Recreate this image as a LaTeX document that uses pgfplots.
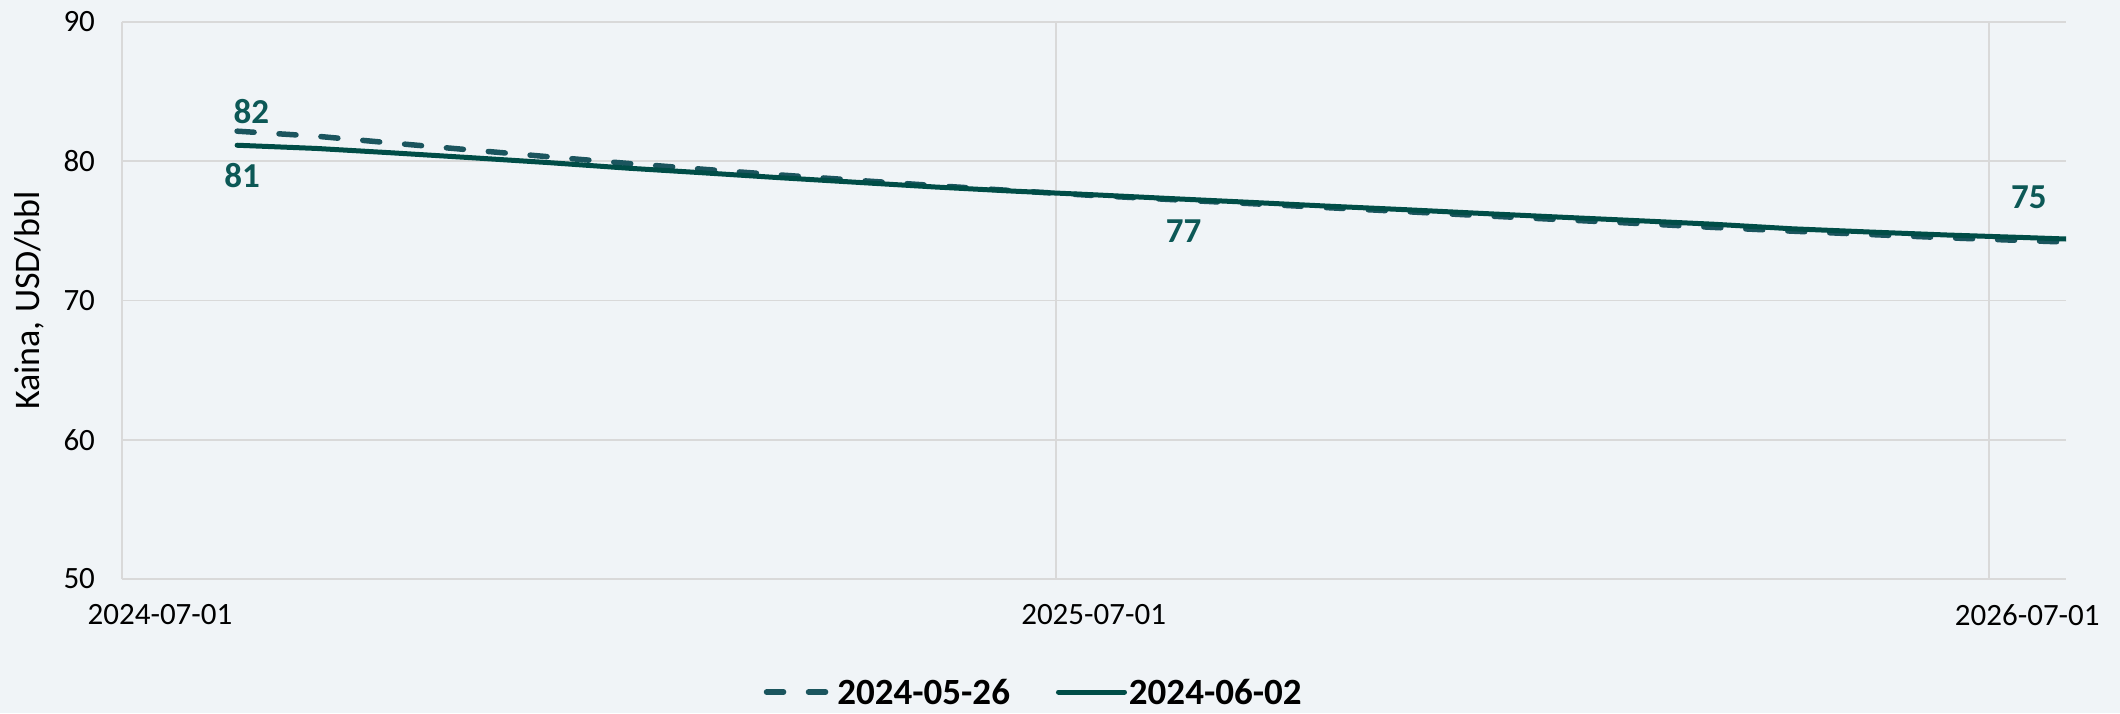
\documentclass[border=0pt]{standalone}
\usepackage{pgfplots}
\pgfplotsset{compat=1.18}
\usepackage{fontspec}
\setmainfont{Carlito}
\definecolor{bg}{RGB}{240,244,247}
\definecolor{gridc}{RGB}{217,217,217}
\definecolor{solidc}{RGB}{0,77,71}
\definecolor{dashc}{RGB}{27,85,94}
\definecolor{labc}{RGB}{12,88,86}
\begin{document}
\begin{tikzpicture}
\path[use as bounding box, fill=bg] (-61pt,-67pt) rectangle (999pt,289.5pt);
\begin{axis}[
  at={(0pt,0pt)}, anchor=south west,
  scale only axis, width=972pt, height=278.5pt,
  xmin=0, xmax=760, ymin=50, ymax=90,
  xtick={0,365,730}, xticklabels={2024-07-01,2025-07-01,2026-07-01},
  ytick={50,60,70,80,90},
  grid=major, major grid style={gridc, line width=0.9pt},
  axis line style={draw=none},
  major tick length=0pt,
  tick label style={font=\fontsize{15.5}{18}\selectfont, black},
  /pgf/number format/assume math mode=true,
  xticklabel style={xshift=19pt, yshift=-9pt},
  yticklabel style={xshift=-10pt},
  ylabel={Kaina, USD/bbl},
  ylabel style={at={(axis description cs:-0.0478,0.5)}, anchor=center, font=\fontsize{18}{21}\selectfont},
  legend style={at={(axis description cs:0.469,-0.203)}, anchor=center, draw=none, fill=none,
    inner sep=0pt, outer sep=0pt,
    legend columns=2, font=\bfseries\fontsize{18.5}{22}\selectfont,
    nodes={inner sep=1pt, text depth=0pt},
    /tikz/every even column/.append style={column sep=22pt}},
  legend cell align=left,
  legend image code/.code={\draw[#1] (0pt,0pt) -- (33pt,0pt);},
]
\addplot[dashc, line width=2.75pt, line cap=round, dash pattern=on 8.5pt off 12.5pt] coordinates {
(45,82.16) (76,81.80) (106,81.30) (137,80.80) (167,80.32) (198,79.84) (229,79.40) (257,79.02)
(288,78.62) (318,78.25) (349,77.88) (379,77.55) (410,77.25) (441,76.96) (471,76.67) (502,76.38)
(532,76.09) (563,75.80) (594,75.52) (622,75.25) (653,74.98) (683,74.74) (714,74.50) (744,74.30) (775,74.10)
};
\addlegendentry{2024-05-26}
\addplot[solidc, line width=2.5pt, line cap=round] coordinates {
(45,81.15) (76,80.92) (106,80.60) (137,80.25) (167,79.90) (198,79.50) (229,79.15) (257,78.82)
(288,78.48) (318,78.15) (349,77.85) (379,77.60) (410,77.32) (441,77.05) (471,76.78) (502,76.52)
(532,76.25) (563,75.98) (594,75.72) (622,75.48) (653,75.15) (683,74.92) (714,74.70) (744,74.52) (775,74.32)
};
\addlegendentry{2024-06-02}
\node[labc, font=\bfseries\fontsize{17.5}{21}\selectfont] at (axis cs:50.6,83.55) {82};
\node[labc, font=\bfseries\fontsize{17.5}{21}\selectfont] at (axis cs:47,78.94) {81};
\node[labc, font=\bfseries\fontsize{17.5}{21}\selectfont] at (axis cs:415,74.98) {77};
\node[labc, font=\bfseries\fontsize{17.5}{21}\selectfont] at (axis cs:745.5,77.43) {75};
\end{axis}
\end{tikzpicture}
\end{document}
